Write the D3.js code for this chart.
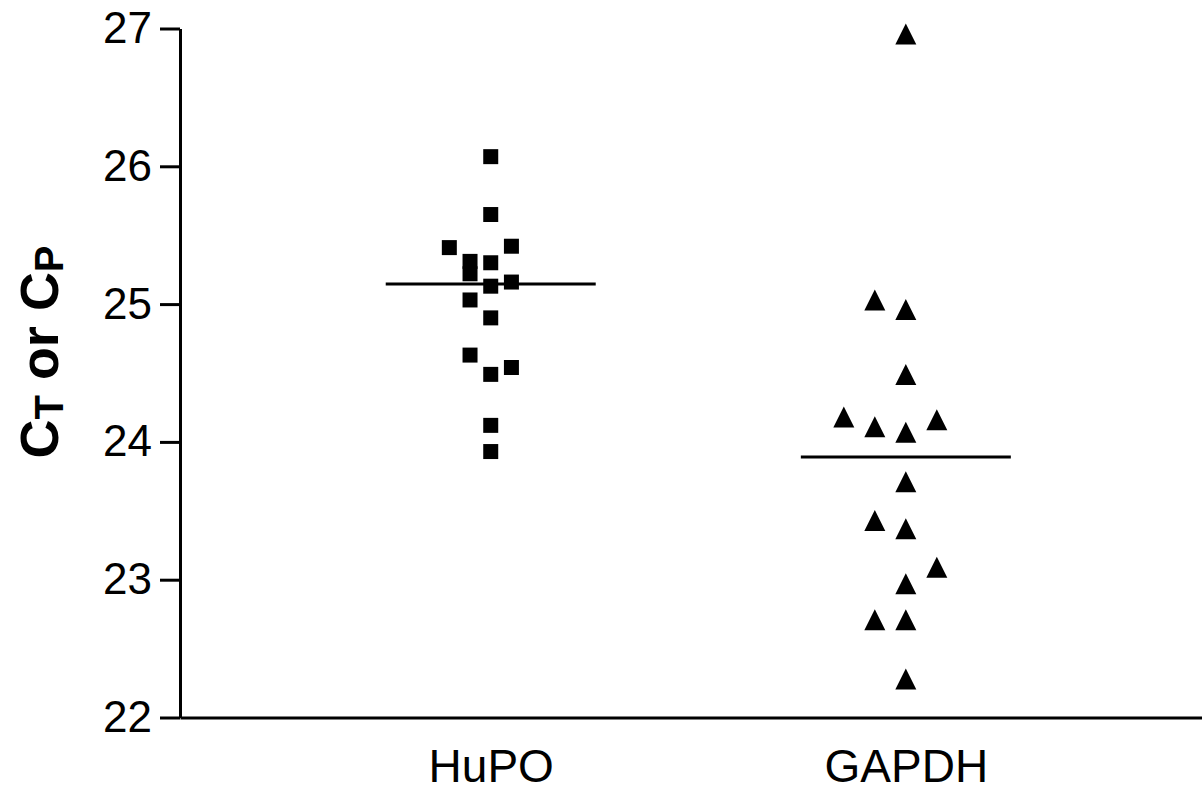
<!DOCTYPE html>
<html>
<head>
<meta charset="utf-8">
<script src="https://cdn.jsdelivr.net/npm/d3@7"></script>
<style>
  body { margin: 0; background: #fff; }
  text { font-family: "Liberation Sans", Arial, sans-serif; }
</style>
</head>
<body>
<div id="chart"></div>
<script>
  // categories and values
  const categories = ["HuPO", "GAPDH"];
  const yTicks = [22, 23, 24, 25, 26, 27];

  const hupoValues = [26.07, 25.65, 25.41, 25.42, 25.31, 25.22, 25.30, 25.13,
                      25.16, 25.03, 24.90, 24.63, 24.49, 24.54, 24.12, 23.93];
  // column each marker sits in (side-by-side jitter as in the picture)
  const hupoSlots = [0, 0, -2, 1, -1, -1, 0, 0, 1, -1, 0, -1, 0, 1, 0, 0];

  const gapdhValues = [26.96, 25.03, 24.96, 24.49, 24.18, 24.11, 24.07, 24.16,
                       23.71, 23.43, 23.37, 23.09, 22.97, 22.71, 22.71, 22.28];
  const gapdhSlots = [0, -1, 0, 0, -2, -1, 0, 1, 0, -1, 0, 1, 0, -1, 0, 0];

  const width = 1202;
  const height = 791;
  const x0 = 180, yTop = 28.5, yBottom = 717.5;

  const svg = d3.select("#chart")
    .append("svg")
    .attr("width", width)
    .attr("height", height);

  const xScale = d3.scalePoint()
    .domain(categories)
    .range([x0, width])
    .padding(0.731)
    .align(0.512);

  const yScale = d3.scaleLinear()
    .domain([22, 27])
    .range([yBottom, yTop]);

  // y axis
  const yAxis = svg.append("g")
    .attr("transform", `translate(${x0},0)`)
    .call(d3.axisLeft(yScale).tickValues(yTicks).tickFormat(d3.format("d"))
      .tickSize(20).tickSizeOuter(0).tickPadding(8));
  yAxis.selectAll("path, line").attr("stroke", "#000").attr("stroke-width", 3);
  yAxis.selectAll("text").attr("font-size", 44).attr("fill", "#000")
    .style("font-family", "'Liberation Sans', Arial, sans-serif");

  // x axis
  const xAxis = svg.append("g")
    .attr("transform", `translate(0,${yBottom})`)
    .call(d3.axisBottom(xScale).tickSize(0).tickSizeOuter(0).tickPadding(32));
  xAxis.select(".domain").attr("stroke", "#000").attr("stroke-width", 3);
  xAxis.selectAll("text").attr("font-size", 46).attr("fill", "#000")
    .style("font-family", "'Liberation Sans', Arial, sans-serif");

  // y title: C_T or C_P
  const title = svg.append("text")
    .attr("transform", `translate(58,352) rotate(-90)`)
    .attr("text-anchor", "middle")
    .attr("font-weight", "bold")
    .attr("font-size", 54)
    .attr("fill", "#000");
  title.append("tspan").text("C");
  title.append("tspan").attr("font-size", 40).attr("dy", 5).text("T");
  title.append("tspan").attr("dy", -5).text(" or C");
  title.append("tspan").attr("font-size", 40).attr("dy", 5).text("P");

  const groups = [
    { name: "HuPO", values: hupoValues, slots: hupoSlots, shape: "square", step: 20.7 },
    { name: "GAPDH", values: gapdhValues, slots: gapdhSlots, shape: "triangle", step: 31 }
  ];

  const tri = (w, h) => `M0,${-h / 2}L${w / 2},${h / 2}L${-w / 2},${h / 2}Z`;

  groups.forEach(g => {
    const cx = xScale(g.name);
    const pts = g.values.map((v, i) => ({ v, s: g.slots[i] }));

    svg.append("g").selectAll("path")
      .data(pts)
      .join("path")
      .attr("d", g.shape === "square" ? d3.symbol(d3.symbolSquare, 225)() : tri(21, 21))
      .attr("transform", d => `translate(${cx + d.s * g.step},${yScale(d.v)})`)
      .attr("fill", "#000");

    // median line
    const med = d3.median(g.values);
    svg.append("line")
      .attr("x1", cx - 105)
      .attr("x2", cx + 105)
      .attr("y1", yScale(med))
      .attr("y2", yScale(med))
      .attr("stroke", "#000")
      .attr("stroke-width", 3);
  });
</script>
</body>
</html>
